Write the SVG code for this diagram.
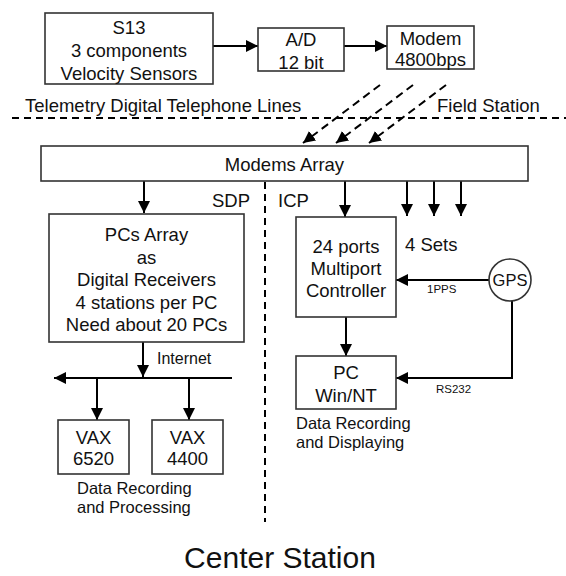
<svg xmlns="http://www.w3.org/2000/svg" width="566" height="576" viewBox="0 0 566 576">
<defs>
<marker id="ah" markerUnits="userSpaceOnUse" markerWidth="12" markerHeight="12" refX="12" refY="6" orient="auto" viewBox="0 0 12 12">
<path d="M0,0 L12,6 L0,12 z" fill="#000"/>
</marker>
</defs>
<style>
text{font-family:"Liberation Sans",Arial,sans-serif;fill:#111;}
.t{font-size:18.5px;text-anchor:middle;}
.l{font-size:18.5px;}
.s{font-size:16.5px;}
.xs{font-size:11.5px;}
.box{fill:#fff;stroke:#333;stroke-width:1.6;}
.c{stroke:#000;stroke-width:2;fill:none;}
.a{stroke:#000;stroke-width:2;fill:none;marker-end:url(#ah);}
.d{stroke:#000;stroke-width:2;fill:none;stroke-dasharray:7 5;}
.da{stroke:#000;stroke-width:2;fill:none;stroke-dasharray:8 5;marker-end:url(#ah);}
</style>
<rect width="566" height="576" fill="#fff"/>

<g id="connectors">
<line class="a" x1="213" y1="46" x2="258" y2="46"/>
<line class="a" x1="344" y1="46" x2="387" y2="46"/>
<line class="da" x1="380" y1="85" x2="303" y2="143"/>
<line class="da" x1="413" y1="85" x2="336" y2="143"/>
<line class="da" x1="446" y1="85" x2="369" y2="143"/>
<line class="d" x1="12" y1="118" x2="566" y2="118"/>
<line class="d" x1="265" y1="182" x2="265" y2="522"/>
<line class="a" x1="144" y1="181" x2="144" y2="213"/>
<line class="a" x1="345" y1="181" x2="345" y2="217"/>
<line class="a" x1="407" y1="181" x2="407" y2="216"/>
<line class="a" x1="434" y1="181" x2="434" y2="216"/>
<line class="a" x1="461" y1="181" x2="461" y2="216"/>
<line class="a" x1="143" y1="342" x2="143" y2="377"/>
<line class="a" x1="232" y1="378" x2="54" y2="378"/>
<line class="a" x1="97" y1="378" x2="97" y2="420"/>
<line class="a" x1="189" y1="378" x2="189" y2="420"/>
<line class="a" x1="346" y1="317" x2="346" y2="356"/>
<line class="a" x1="489" y1="280" x2="396" y2="280"/>
<polyline class="a" points="512,301 512,378 396,378"/>
</g>

<g id="s13">
<rect class="box" x="45" y="13" width="168" height="71"/>
<text class="t" x="129" y="34">S13</text>
<text class="t" x="129" y="57">3 components</text>
<text class="t" x="129" y="80">Velocity Sensors</text>
</g>
<g id="ad">
<rect class="box" x="258" y="28" width="86" height="43"/>
<text class="t" x="301" y="46">A/D</text>
<text class="t" x="301" y="68.5">12 bit</text>
</g>
<g id="modem">
<rect class="box" x="387" y="26" width="87" height="43"/>
<text class="t" x="430.5" y="45">Modem</text>
<text class="t" x="430.5" y="66">4800bps</text>
</g>

<g id="labels-top">
<text class="l" x="25" y="112">Telemetry Digital Telephone Lines</text>
<text class="l" x="437" y="112">Field Station</text>
</g>

<g id="modems-array">
<rect class="box" x="41" y="146" width="487" height="35"/>
<text class="t" x="284.5" y="170.5">Modems Array</text>
</g>

<g id="section-labels">
<text class="l" x="212" y="207">SDP</text>
<text class="l" x="278" y="207">ICP</text>
<text class="l" x="405" y="251">4 Sets</text>
</g>

<g id="pcs-array">
<rect class="box" x="49" y="214" width="195" height="128"/>
<text class="t" x="146.5" y="241">PCs Array</text>
<text class="t" x="146.5" y="264">as</text>
<text class="t" x="146.5" y="286">Digital Receivers</text>
<text class="t" x="146.5" y="309">4 stations per PC</text>
<text class="t" x="146.5" y="331">Need about 20 PCs</text>
</g>

<g id="multiport">
<rect class="box" x="296" y="217" width="100" height="100"/>
<text class="t" x="346" y="253">24 ports</text>
<text class="t" x="346" y="275">Multiport</text>
<text class="t" x="346" y="297">Controller</text>
</g>

<g id="gps">
<circle cx="510" cy="280" r="21" fill="#fff" stroke="#333" stroke-width="1.6"/>
<text x="510" y="286" style="font-size:16.5px;text-anchor:middle">GPS</text>
<text class="xs" x="427" y="293">1PPS</text>
<text class="xs" x="436" y="393">RS232</text>
</g>

<g id="pc">
<rect class="box" x="296" y="356" width="100" height="53"/>
<text class="t" x="346" y="378.5">PC</text>
<text class="t" x="346" y="401.5">Win/NT</text>
<text class="s" x="296" y="429">Data Recording</text>
<text class="s" x="296" y="448">and Displaying</text>
</g>

<g id="internet">
<text x="157" y="364" style="font-size:16px">Internet</text>
</g>

<g id="vax6520">
<rect class="box" x="58" y="420" width="71" height="54"/>
<text class="t" x="93.5" y="443.5">VAX</text>
<text class="t" x="93.5" y="464.5">6520</text>
</g>
<g id="vax4400">
<rect class="box" x="152" y="420" width="71" height="54"/>
<text class="t" x="187.5" y="443.5">VAX</text>
<text class="t" x="187.5" y="464.5">4400</text>
</g>
<g id="vax-label">
<text class="s" x="77" y="494">Data Recording</text>
<text class="s" x="77" y="513">and Processing</text>
</g>

<g id="title">
<text x="280" y="568" style="font-size:30px;text-anchor:middle">Center Station</text>
</g>
</svg>
